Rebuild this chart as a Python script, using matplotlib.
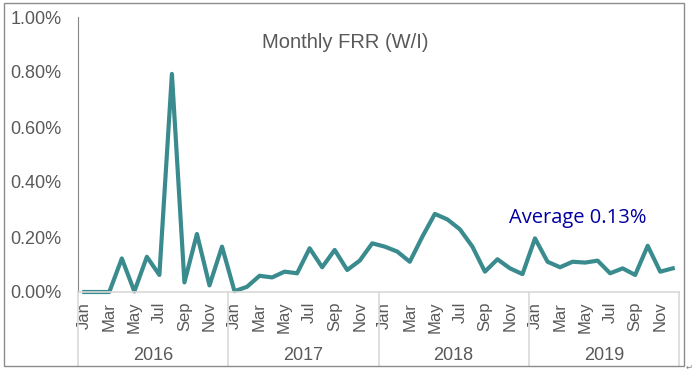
import numpy as np
import matplotlib
matplotlib.use("Agg")
import matplotlib.pyplot as plt
from matplotlib.patches import Rectangle
from matplotlib.transforms import blended_transform_factory

# monthly FRR (%)
frr_2016 = [0.0, 0.0, 0.0, 0.122, 0.002, 0.128, 0.062, 0.793, 0.035, 0.211, 0.024, 0.165]
frr_2017 = [0.003, 0.019, 0.059, 0.053, 0.074, 0.068, 0.159, 0.090, 0.153, 0.080, 0.114, 0.177]
frr_2018 = [0.165, 0.147, 0.110, 0.201, 0.284, 0.264, 0.228, 0.165, 0.074, 0.119, 0.086, 0.065]
frr_2019 = [0.195, 0.110, 0.090, 0.110, 0.107, 0.114, 0.068, 0.086, 0.062, 0.168, 0.074, 0.086]
years = ['2016', '2017', '2018', '2019']
months = ['Jan', 'Feb', 'Mar', 'Apr', 'May', 'Jun',
          'Jul', 'Aug', 'Sep', 'Oct', 'Nov', 'Dec']
y_ticks = [0.0, 0.2, 0.4, 0.6, 0.8, 1.0]
title = 'Monthly FRR (W/I)'
avg_label = 'Average 0.13%'

vals = frr_2016 + frr_2017 + frr_2018 + frr_2019
x = np.arange(len(vals))

W, H = 694, 374
fig = plt.figure(figsize=(W / 100, H / 100), dpi=100)
plt.rcParams['font.family'] = ['Liberation Sans', 'DejaVu Sans']

# outer frame
fig.patches.append(Rectangle((4 / W, 1 - 366 / H), 680 / W, 363 / H,
                             transform=fig.transFigure, fill=False,
                             edgecolor='#8c8c8c', lw=1))

ax = fig.add_axes([78 / W, 1 - 292 / H, 601 / W, 275 / H])
ax.plot(x, vals, color='#3a8b8e', lw=3, solid_joinstyle='round', clip_on=False)

ax.set_xlim(-0.5, len(vals) - 0.5)
ax.set_ylim(0, 1.0)
ax.set_yticks(y_ticks)
ax.set_yticklabels(['%.2f%%' % v for v in y_ticks])
ax.tick_params(axis='y', length=0, pad=12, labelsize=13, labelcolor='#595959')

tick_pos = [i for i in x if i % 2 == 0]
ax.set_xticks(tick_pos)
ax.set_xticklabels([months[i % 12] for i in tick_pos], rotation=90)
ax.tick_params(axis='x', length=0, pad=7, labelsize=12, labelcolor='#595959')

for s in ['top', 'right']:
    ax.spines[s].set_visible(False)
ax.spines['left'].set_color('#868686')
ax.spines['bottom'].set_color('#d9d9d9')
ax.spines['bottom'].set_linewidth(1.2)

# year groups below the month labels
trans = blended_transform_factory(ax.transData, ax.transAxes)
sep_bottom = -(366 - 292) / 275
for k, yr in enumerate(years):
    ax.text(5.5 + 12 * k, -(355 - 292) / 275, yr, transform=trans,
            ha='center', va='center', fontsize=13, color='#595959')
for k in range(len(years) + 1):
    ax.plot([-0.5 + 12 * k] * 2, [0, sep_bottom], transform=trans,
            color='#d9d9d9', lw=1.2, clip_on=False)

fig.text(345 / W, 1 - 42 / H, title, ha='center', va='center',
         fontsize=14.5, color='#595959')
ax.text(33.9, 0.269, avg_label, ha='left', va='center',
        fontsize=14.5, color='#0000a0', family=['Open Sans', 'DejaVu Sans'])
fig.text(686 / W, 1 - 367 / H, '\u21b5', ha='left', va='center',
         fontsize=6, color='#808080', family='DejaVu Sans')

fig.savefig('out.png', dpi=100)
